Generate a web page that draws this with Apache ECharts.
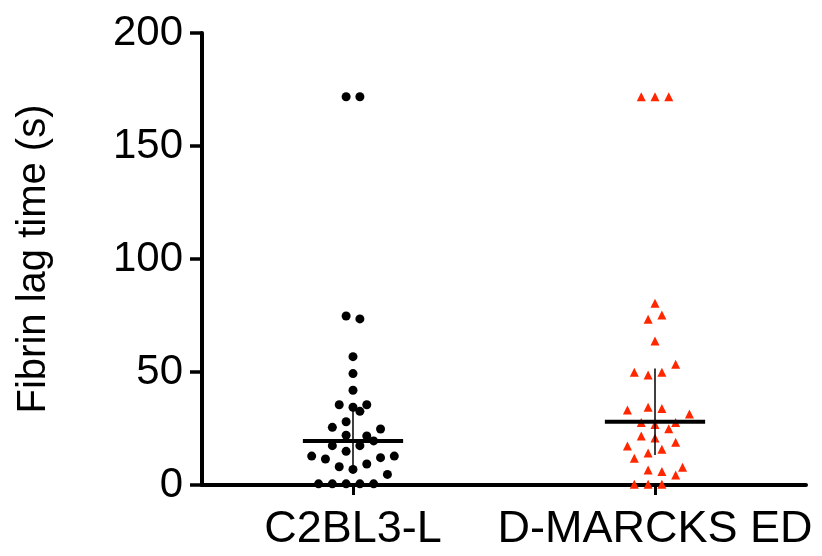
<!DOCTYPE html>
<html>
<head>
<meta charset="utf-8">
<script src="https://cdn.jsdelivr.net/npm/echarts@6/dist/echarts.min.js"></script>
<style>html,body{margin:0;padding:0;background:#fff}#c{width:822px;height:556px}</style>
</head>
<body>
<div id="c"></div>
<script>
var categories = ['C2BL3-L', 'D-MARCKS ED'];
var yTicks = [0, 50, 100, 150, 200];

// C2BL3-L values and their beeswarm column (integer offset from group centre)
var c2Values = [171.8, 171.8, 74.8, 73.5, 56.8, 49.3, 41.9, 35.5, 34.4, 35.5, 32.6, 28.0, 25.5, 24.8, 22.0, 21.7, 19.5, 17.4, 17.4, 14.9, 12.8, 11.5, 12.1, 12.8, 8.1, 9.3, 6.9, 4.7, 0.5, 0.5, 0.5, 0.5, 0.5];
var c2Cols   = [-1, 1, -1, 1, 0, 0, 0, -2, 0, 2, 1, -1, -3, 4, -1, 2, 3, -3, 1, -1, -6, -4, 4, 6, -2, 2, 0, 5, -5, -3, -1, 1, 3];

// D-MARCKS ED values and columns
var mkValues = [171.8, 171.8, 171.8, 80.4, 73.3, 75.2, 63.7, 53.4, 49.9, 48.7, 49.9, 33.2, 34.4, 33.8, 31.4, 27.6, 26.8, 27.7, 24.9, 21.7, 20.8, 18.9, 17.3, 15.8, 14.2, 11.8, 6.6, 6.0, 7.8, 4.4, 0.3, 0.3, 0.3];
var mkCols   = [-2, 0, 2, 0, -1, 1, 0, 3, -3, -1, 1, -4, -1, 1, 5, -2, 0, 3, 2, -2, 0, 3, -4, 1, -1, -3, -1, 1, 4, 3, -3, -1, 1];

// median and interquartile range per group
var medians = [19.5, 28.0];
var lowerQ  = [7.0, 13.3];
var upperQ  = [34.7, 51.6];

var COL = 0.0228;      // column spacing in x units
var HALF = 0.166;      // half width of the median bar

function pts(vals, cols, g) {
  return vals.map(function (v, i) { return [g + cols[i] * COL, v]; });
}

var FONT = "'Liberation Sans', Arial, Helvetica, sans-serif";
var series = [
  { type: 'scatter', xAxisIndex: 1, data: pts(c2Values, c2Cols, 1), symbol: 'circle', symbolSize: 9,
    itemStyle: { color: '#000', opacity: 1 }, clip: false, z: 2 },
  { type: 'scatter', xAxisIndex: 1, data: pts(mkValues, mkCols, 2), symbol: 'triangle', symbolSize: [9, 9],
    itemStyle: { color: '#FF2600', opacity: 1 }, clip: false, z: 2 }
];
for (var g = 0; g < 2; g++) {
  var cx = g + 1;
  series.push({ type: 'line', xAxisIndex: 1, data: [[cx - HALF, medians[g]], [cx + HALF, medians[g]]],
    symbol: 'none', lineStyle: { color: '#000', width: 4 }, z: 5, silent: true });
  series.push({ type: 'line', xAxisIndex: 1, data: [[cx, lowerQ[g]], [cx, upperQ[g]]],
    symbol: 'none', lineStyle: { color: '#000', width: 1.5 }, z: 4, silent: true });
}

var chart = echarts.init(document.getElementById('c'), null, { renderer: 'canvas' });
chart.setOption({
  animation: false,
  backgroundColor: '#fff',
  grid: { left: 202, right: 16, top: 33, bottom: 71, containLabel: false },
  xAxis: [
    { type: 'category', data: categories, position: 'bottom',
      axisLine: { show: true, lineStyle: { color: '#000', width: 4 } },
      axisTick: { show: true, alignWithLabel: true, interval: 0, length: 10, lineStyle: { color: '#000', width: 3 } },
      axisLabel: { show: true, interval: 0, color: '#000', fontSize: 45, fontFamily: FONT, margin: 22, hideOverlap: false },
      splitLine: { show: false } },
    { type: 'value', min: 0.5, max: 2.5, show: false }
  ],
  yAxis: {
    type: 'value', min: yTicks[0], max: yTicks[yTicks.length - 1], interval: 50,
    name: 'Fibrin lag time (s)', nameLocation: 'middle', nameGap: 148, nameRotate: 90,
    nameTextStyle: { color: '#000', fontSize: 40, fontFamily: FONT },
    axisLine: { show: true, lineStyle: { color: '#000', width: 4 } },
    axisTick: { show: true, inside: false, length: 12, lineStyle: { color: '#000', width: 3.5 } },
    axisLabel: { color: '#000', fontSize: 42, fontFamily: FONT, margin: 19 },
    splitLine: { show: false }
  },
  series: series
});
</script>
</body>
</html>
